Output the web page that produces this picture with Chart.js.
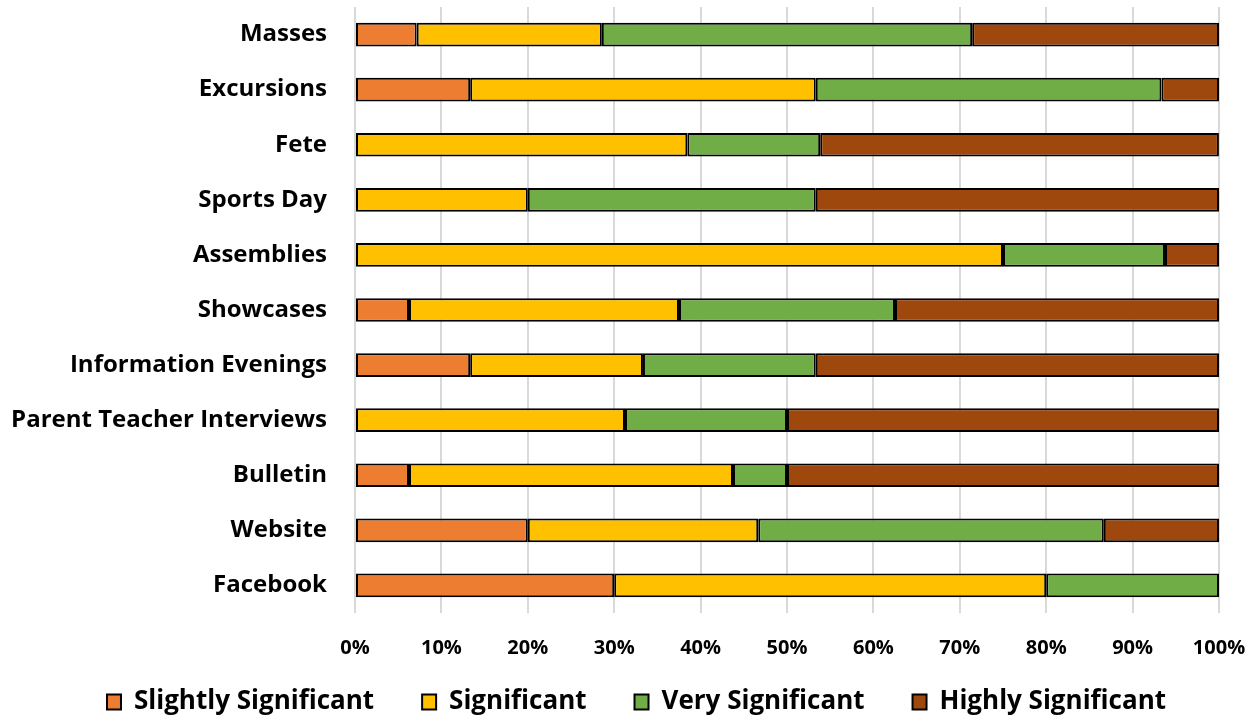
<!DOCTYPE html>
<html>
<head>
<meta charset="utf-8">
<script src="https://cdn.jsdelivr.net/npm/chart.js@4.4.1/dist/chart.umd.min.js"></script>
<style>
  html, body { margin: 0; padding: 0; background: #ffffff; }
  #wrap { width: 1255px; height: 720px; position: relative; }
</style>
</head>
<body>
<div id="wrap"><canvas id="chart" width="1255" height="720"></canvas></div>
<script>
// Categories, top to bottom
const categories = [
  'Masses', 'Excursions', 'Fete', 'Sports Day', 'Assemblies', 'Showcases',
  'Information Evenings', 'Parent Teacher Interviews', 'Bulletin', 'Website', 'Facebook'
];

// Share of responses (%) per rating level
const slightlySignificant = [7.14, 13.33, 0, 0, 0, 6.25, 13.33, 0, 6.25, 20, 30];
const significant         = [21.43, 40, 38.46, 20, 75, 31.25, 20, 31.25, 37.5, 26.67, 50];
const verySignificant     = [42.86, 40, 15.38, 33.33, 18.75, 25, 20, 18.75, 6.25, 40, 20];
const highlySignificant   = [28.57, 6.67, 46.15, 46.67, 6.25, 37.5, 46.67, 50, 50, 13.33, 0];

const seriesNames = ['Slightly Significant', 'Significant', 'Very Significant', 'Highly Significant'];
const xTickValues = [0, 10, 20, 30, 40, 50, 60, 70, 80, 90, 100];

const FONT = '"Open Sans", Lato, "Liberation Sans", sans-serif';

function series(label, data, color) {
  return {
    label: label,
    data: data,
    backgroundColor: color,
    borderColor: '#000000',
    borderWidth: 2,
    borderSkipped: false,
    barPercentage: 0.43,
    categoryPercentage: 1.0
  };
}

// Nudge the legend row so it is centred a little right of the canvas middle
const legendShift = {
  id: 'legendShift',
  afterLayout(chart) {
    if (chart.legend) {
      chart.legend.left += 18;
    }
  }
};

new Chart(document.getElementById('chart'), {
  type: 'bar',
  data: {
    labels: categories,
    datasets: [
      series(seriesNames[0], slightlySignificant, '#ED7D31'),
      series(seriesNames[1], significant, '#FFC000'),
      series(seriesNames[2], verySignificant, '#70AD47'),
      series(seriesNames[3], highlySignificant, '#9E480E')
    ]
  },
  plugins: [legendShift],
  options: {
    indexAxis: 'y',
    responsive: false,
    animation: false,
    devicePixelRatio: 1,
    layout: { padding: { left: 0, right: 0, top: 7, bottom: 0 } },
    plugins: {
      tooltip: { enabled: false },
      legend: {
        position: 'bottom',
        maxHeight: 79,
        labels: {
          color: '#000000',
          font: { family: FONT, size: 26, weight: 'bold' },
          boxWidth: 14,
          boxHeight: 15,
          padding: 48
        }
      }
    },
    scales: {
      x: {
        stacked: true,
        min: 0,
        max: 100,
        afterBuildTicks: (scale) => {
          scale.ticks = xTickValues.map(v => ({ value: v }));
        },
        afterFit: (scale) => {
          scale.height = 28;
          scale.paddingRight = 36;
        },
        grid: {
          color: '#D9D9D9',
          lineWidth: 2,
          drawTicks: false
        },
        border: { display: false },
        ticks: {
          mirror: true,
          padding: -47,
          color: '#000000',
          font: { family: FONT, size: 20, weight: 'bold' },
          callback: (v) => v + '%'
        }
      },
      y: {
        stacked: true,
        afterFit: (scale) => {
          scale.width = 355;
          scale.paddingTop = 0;
          scale.paddingBottom = 0;
        },
        grid: { display: false, drawTicks: false },
        border: { display: false },
        ticks: {
          padding: 28,
          color: '#000000',
          font: { family: FONT, size: 24, weight: 'bold' }
        }
      }
    }
  }
});
</script>
</body>
</html>
